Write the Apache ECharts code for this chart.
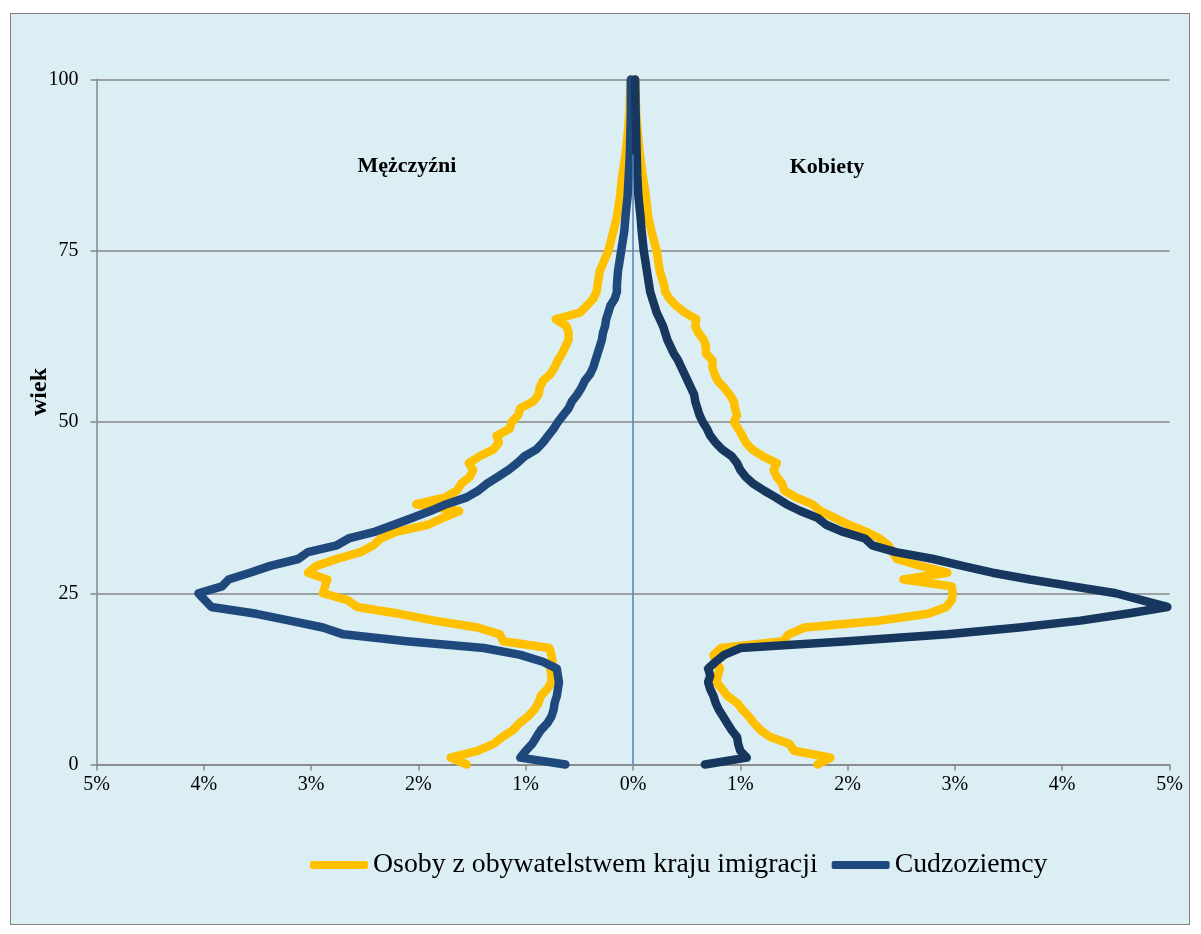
<!DOCTYPE html>
<html><head><meta charset="utf-8">
<script src="https://cdn.jsdelivr.net/npm/echarts@6.0.0/dist/echarts.min.js"></script>
<style>
html,body{margin:0;padding:0;background:#ffffff;}
#frame{position:absolute;left:10px;top:13px;width:1178px;height:910px;background:#DAEEF3;border:1.5px solid #808080;}
#c{position:absolute;left:0;top:0;width:1201px;height:934px;}
</style>
</head><body><div id="frame"></div><div id="c"></div>
<script>
// Age (years) at which each value was read
const ages = [0,1,2,3,4,5,6,7,8,9,10,11,12,13,14,15,16,17,18,19,20,21,22,23,24,25,26,27,28,29,
  30,31,32,33,34,35,36,37,38,39,40,41,42,43,44,45,46,47,48,49,50,51,52,53,54,55,56,57,58,59,
  60,61,62,63,64,65,66,67,68,69,70,72,75,78,80,83,86,89,92,95,100];

// Share of population (%) — men shown on the left, women on the right
const citizensMen = [1.55,1.70,1.45,1.30,1.22,1.12,1.06,0.98,0.92,0.88,
  0.86,0.80,0.76,0.76,0.77,0.75,0.76,0.78,1.21,1.24,
  1.45,1.85,2.18,2.57,2.66,2.89,2.87,2.85,3.03,2.95,
  2.76,2.54,2.42,2.35,2.20,1.91,1.77,1.62,2.02,1.75,
  1.64,1.60,1.52,1.49,1.53,1.43,1.30,1.25,1.27,1.15,
  1.13,1.07,1.05,0.93,0.88,0.87,0.84,0.77,0.73,0.70,
  0.66,0.63,0.60,0.60,0.62,0.72,0.49,0.43,0.37,0.34,
  0.33,0.31,0.23,0.18,0.15,0.12,0.10,0.07,0.05,0.035,0.02];
const citizensWomen = [1.72,1.84,1.50,1.46,1.28,1.19,1.13,1.08,1.02,0.97,
  0.88,0.83,0.78,0.79,0.81,0.77,0.75,0.82,1.40,1.45,
  1.60,2.30,2.75,2.92,2.97,2.98,2.97,2.52,2.93,2.68,
  2.46,2.42,2.38,2.30,2.17,2.01,1.88,1.75,1.67,1.52,
  1.41,1.39,1.34,1.31,1.34,1.21,1.11,1.05,1.02,0.98,
  0.94,0.97,0.95,0.94,0.90,0.85,0.79,0.76,0.74,0.74,
  0.68,0.68,0.66,0.61,0.58,0.59,0.48,0.40,0.34,0.30,
  0.29,0.25,0.22,0.17,0.14,0.12,0.09,0.065,0.045,0.03,0.02];
const foreignersMen = [0.63,1.05,1.00,0.94,0.90,0.86,0.80,0.76,0.74,0.73,
  0.71,0.70,0.69,0.70,0.71,0.84,1.05,1.39,2.11,2.70,
  2.89,3.20,3.51,3.93,3.99,4.05,3.83,3.77,3.57,3.38,
  3.12,3.03,2.76,2.65,2.40,2.23,2.06,1.89,1.74,1.55,
  1.44,1.36,1.26,1.16,1.08,1.01,0.90,0.84,0.79,0.74,
  0.70,0.65,0.60,0.57,0.52,0.48,0.45,0.40,0.37,0.35,
  0.33,0.31,0.29,0.28,0.26,0.25,0.23,0.21,0.17,0.15,
  0.15,0.14,0.11,0.08,0.07,0.05,0.04,0.03,0.025,0.02,0.02];
const foreignersWomen = [0.67,1.06,1.00,0.98,0.97,0.92,0.88,0.84,0.80,0.77,
  0.75,0.72,0.70,0.72,0.70,0.77,0.85,1.00,2.00,2.93,
  3.60,4.17,4.60,4.98,4.74,4.50,4.10,3.70,3.35,3.07,
  2.80,2.45,2.23,2.16,1.95,1.80,1.72,1.56,1.43,1.33,
  1.22,1.12,1.05,1.00,0.97,0.92,0.83,0.77,0.72,0.69,
  0.65,0.62,0.60,0.58,0.57,0.54,0.51,0.48,0.45,0.42,
  0.38,0.35,0.32,0.30,0.28,0.25,0.22,0.20,0.18,0.16,
  0.15,0.13,0.10,0.08,0.07,0.05,0.04,0.035,0.03,0.025,0.02];
const zeroLineAges = [0, 89];

const seriesNames = ['Osoby z obywatelstwem kraju imigracji', 'Cudzoziemcy'];

const FONT = '"Liberation Serif","Times New Roman",serif';
const chart = echarts.init(document.getElementById('c'), null, {renderer:'canvas'});

function lineSeries(name, values, sign, color, z){
  return {
    name: name, type: 'line', symbol: 'none', clip: false, z: z,
    data: ages.map((a, i) => [sign * values[i], a]),
    lineStyle: {color: color, width: 8.5, cap: 'round', join: 'round'},
    itemStyle: {color: color},
    emphasis: {disabled: true}
  };
}

const gridColor = '#868686';
chart.setOption({
  animation: false,
  backgroundColor: 'transparent',
  grid: {left: 96.5, right: 31.5, top: 79.5, bottom: 169.5},
  xAxis: {
    type: 'value', min: -5, max: 5, interval: 1,
    axisLine: {show: true, onZero: false, lineStyle: {color: gridColor, width: 1.5}},
    axisTick: {show: true, length: 6, lineStyle: {color: gridColor, width: 1.5}},
    splitLine: {show: false},
    axisLabel: {formatter: v => Math.abs(Math.round(v)) + '%', color: '#000', fontFamily: FONT, fontSize: 20, margin: 10}
  },
  yAxis: {
    type: 'value', min: 0, max: 100, interval: 25,
    axisLine: {show: true, onZero: false, lineStyle: {color: gridColor, width: 1.5}},
    axisTick: {show: true, length: 6, lineStyle: {color: gridColor, width: 1.5}},
    splitLine: {show: true, lineStyle: {color: gridColor, width: 1.5}},
    axisLabel: {color: '#000', fontFamily: FONT, fontSize: 20, margin: 18}
  },
  legend: {
    data: seriesNames,
    left: 310, top: 851, padding: 0,
    itemWidth: 58, itemHeight: 8, itemGap: 14,
    icon: 'roundRect',
    textStyle: {color: '#000', fontFamily: FONT, fontSize: 27.8}
  },
  graphic: [
    {type: 'text', x: 407, y: 166, z: 100, style: {text: 'Mężczyźni', font: 'bold 22px ' + FONT, fill: '#000', textAlign: 'center', textVerticalAlign: 'middle', verticalAlign: 'middle'}},
    {type: 'text', x: 827, y: 167, z: 100, style: {text: 'Kobiety', font: 'bold 22px ' + FONT, fill: '#000', textAlign: 'center', textVerticalAlign: 'middle', verticalAlign: 'middle'}},
    {type: 'text', x: 40, y: 392, rotation: Math.PI / 2, z: 100, style: {text: 'wiek', font: 'bold 24px ' + FONT, fill: '#000', textAlign: 'center', textVerticalAlign: 'middle', verticalAlign: 'middle'}}
  ],
  series: [
    lineSeries(seriesNames[0], citizensMen, -1, '#FFC000', 2),
    lineSeries(seriesNames[0], citizensWomen, 1, '#FFC000', 2),
    lineSeries(seriesNames[1], foreignersMen, -1, '#1F497D', 3),
    lineSeries(seriesNames[1], foreignersWomen, 1, '#17375E', 4),
    {
      name: 'zero', type: 'line', symbol: 'none', z: 5, silent: true,
      data: zeroLineAges.map(a => [0, a]),
      lineStyle: {color: '#4F81BD', width: 1.5}
    }
  ]
});
</script>
</body></html>
